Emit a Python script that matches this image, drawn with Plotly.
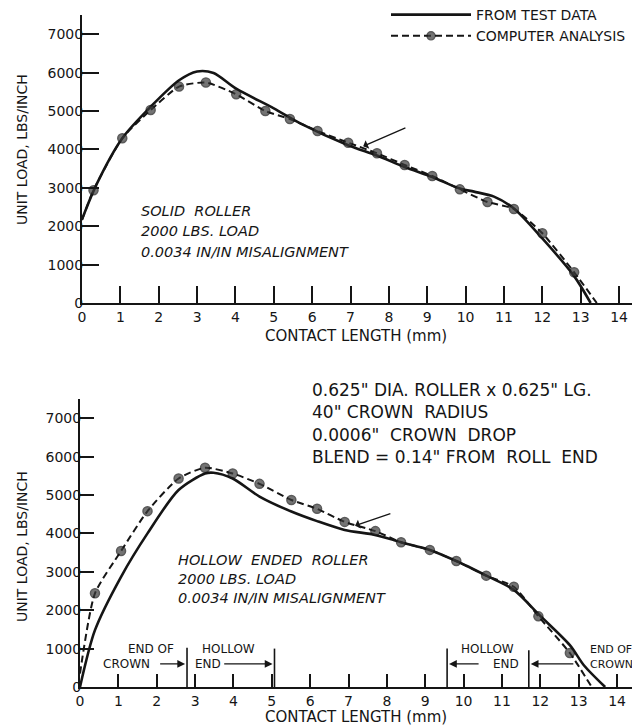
import plotly.graph_objects as go

W, H = 632, 728

# ---------------- data ----------------
# Top chart: solid roller
test_top_x = [0, 0.37, 1.05, 1.79, 2.53, 3.0, 3.43, 4.02, 5.0, 5.69, 6.94, 7.69, 8.41, 9.13, 9.85, 10.22, 10.74, 11.26, 12.0, 12.83, 13.26]
test_top_y = [2180, 3070, 4290, 5110, 5800, 6030, 5990, 5580, 5070, 4680, 4110, 3840, 3540, 3280, 2980, 2900, 2770, 2460, 1680, 700, 0]
comp_top_x = [0.30, 1.05, 1.79, 2.53, 3.23, 4.02, 4.78, 5.42, 6.14, 6.94, 7.69, 8.41, 9.13, 9.85, 10.57, 11.26, 12.0, 12.83]
comp_top_y = [2935, 4290, 5025, 5635, 5740, 5435, 5000, 4790, 4480, 4175, 3900, 3595, 3307, 2960, 2630, 2450, 1815, 800]
comp_top_start = (0, 2160)
comp_top_end = (13.42, 0)

# Bottom chart: hollow ended roller
test_bot_x = [0, 0.39, 1.07, 1.76, 2.57, 3.26, 3.48, 3.98, 4.68, 5.51, 6.18, 6.9, 7.7, 8.37, 9.12, 9.81, 10.59, 11.31, 11.98, 12.77, 13.14, 13.69]
test_bot_y = [0, 1480, 2870, 4000, 5130, 5560, 5580, 5430, 4960, 4570, 4320, 4090, 3960, 3770, 3570, 3280, 2900, 2530, 1870, 1090, 560, 0]
comp_bot_x = [0.39, 1.07, 1.76, 2.57, 3.26, 3.98, 4.68, 5.51, 6.18, 6.9, 7.70, 8.37, 9.12, 9.81, 10.59, 11.31, 11.95, 12.77]
comp_bot_y = [2440, 3540, 4580, 5430, 5710, 5560, 5290, 4870, 4640, 4300, 4060, 3770, 3570, 3280, 2900, 2610, 1840, 885]
comp_bot_start = (0, 350)
comp_bot_end = (13.34, 0)

x_ticks = list(range(0, 15))
x_tick_labels = [str(v) for v in x_ticks]
y_ticks = [0, 1000, 2000, 3000, 4000, 5000, 6000, 7000]
y_tick_labels = [str(v) for v in y_ticks]

# markers of the bottom chart: end of crown / hollow end
end_marks_x = [2.79, 5.07, 9.57, 11.70]
end_marks_top = [1020, 1000, 1000, 960]

INK = "#151515"
FONT = "DejaVu Sans"


def px_x(p):
    return p / W


def px_y(p):
    return 1 - p / H


fig = go.Figure()

# ---- top chart traces ----
fig.add_trace(go.Scatter(
    x=test_top_x, y=test_top_y, mode="lines", line=dict(color=INK, width=2.6, shape="spline", smoothing=0.8),
    name="FROM TEST DATA", xaxis="x", yaxis="y", showlegend=True))
ctx = [comp_top_start[0]] + comp_top_x + [comp_top_end[0]]
cty = [comp_top_start[1]] + comp_top_y + [comp_top_end[1]]
msz = [0] + [9] * len(comp_top_x) + [0]
mlw = [0] + [1.5] * len(comp_top_x) + [0]
fig.add_trace(go.Scatter(
    x=ctx, y=cty, mode="lines+markers",
    line=dict(color=INK, width=2, dash="7px,4px", shape="spline", smoothing=0.6),
    marker=dict(size=msz, color="#3a3a3a", line=dict(color=INK, width=mlw)),
    name="COMPUTER ANALYSIS", xaxis="x", yaxis="y", showlegend=True))

# ---- bottom chart traces ----
fig.add_trace(go.Scatter(
    x=test_bot_x, y=test_bot_y, mode="lines", line=dict(color=INK, width=2.6, shape="spline", smoothing=0.8),
    xaxis="x2", yaxis="y2", showlegend=False))
cbx = [comp_bot_start[0]] + comp_bot_x + [comp_bot_end[0]]
cby = [comp_bot_start[1]] + comp_bot_y + [comp_bot_end[1]]
msz2 = [0] + [9] * len(comp_bot_x) + [0]
mlw2 = [0] + [1.5] * len(comp_bot_x) + [0]
fig.add_trace(go.Scatter(
    x=cbx, y=cby, mode="lines+markers",
    line=dict(color=INK, width=2, dash="7px,4px", shape="spline", smoothing=0.6),
    marker=dict(size=msz2, color="#3a3a3a", line=dict(color=INK, width=mlw2)),
    xaxis="x2", yaxis="y2", showlegend=False))

# ---- end markers (vertical lines) ----
shapes = []
for xv, top in zip(end_marks_x, end_marks_top):
    shapes.append(dict(type="line", xref="x2", yref="y2", x0=xv, x1=xv, y0=0, y1=top,
                       line=dict(color=INK, width=1.6)))

axis_common = dict(
    showgrid=False, zeroline=False, showline=True, linecolor=INK, linewidth=2,
    ticks="inside", tickcolor=INK, tickwidth=1.6, automargin=False,
    tickfont=dict(family=FONT, size=14, color=INK),
)

# pixel geometry
top_x0, top_y0, top_ytop = 82, 303, 15
bot_x0, bot_y0, bot_ytop = 80, 687, 399
pxmm = 38.36

fig.update_layout(
    template="none",
    width=W, height=H,
    margin=dict(l=0, r=0, t=0, b=0, pad=0, autoexpand=False),
    paper_bgcolor="white", plot_bgcolor="white",
    font=dict(family=FONT, color=INK),
    showlegend=True,
    legend=dict(x=px_x(386), y=px_y(-1), xanchor="left", yanchor="top",
                itemwidth=80, tracegroupgap=0, bgcolor="rgba(0,0,0,0)", borderwidth=0,
                font=dict(family=FONT, size=14, color=INK)),
    xaxis=dict(domain=[px_x(top_x0), 1], range=[0, (W - top_x0) / pxmm], anchor="y",
               tickvals=x_ticks, ticktext=x_tick_labels, ticklen=17, **axis_common),
    yaxis=dict(domain=[px_y(top_y0), px_y(top_ytop)], range=[0, 7500], anchor="x",
               tickvals=y_ticks, ticktext=y_tick_labels, ticklen=17, ticklabelstandoff=-6,
               **axis_common),
    xaxis2=dict(domain=[px_x(bot_x0), 1], range=[0, (W - bot_x0) / pxmm], anchor="y2",
                tickvals=x_ticks, ticktext=x_tick_labels, ticklen=13, **axis_common),
    yaxis2=dict(domain=[px_y(bot_y0), px_y(bot_ytop)], range=[0, 7500], anchor="x2",
                tickvals=y_ticks, ticktext=y_tick_labels, ticklen=14, ticklabelstandoff=-6,
                **axis_common),
    shapes=shapes,
)

ann = []


def text(s, x, y, size=13, xanchor="center", italic=False, angle=0):
    if italic:
        s = "<i>" + s + "</i>"
    ann.append(dict(text=s, x=px_x(x), y=px_y(y), xref="paper", yref="paper",
                    xanchor=xanchor, yanchor="middle", showarrow=False, textangle=angle,
                    font=dict(family=FONT, size=size, color=INK)))


# axis titles
text("UNIT LOAD, LBS/INCH", 22, 150, size=14, angle=-90)
text("UNIT LOAD, LBS/INCH", 22, 547, size=14, angle=-90)
text("CONTACT LENGTH (mm)", 356, 336, size=15)
text("CONTACT LENGTH (mm)", 356, 717, size=15)

# top chart labels
text("SOLID  ROLLER", 139, 211, size=14.5, xanchor="left", italic=True)
text("2000 LBS. LOAD", 139, 231, size=14.5, xanchor="left", italic=True)
text("0.0034 IN/IN MISALIGNMENT", 139, 252, size=14.5, xanchor="left", italic=True)

# bottom chart labels
text("HOLLOW  ENDED  ROLLER", 176, 560, size=14.5, xanchor="left", italic=True)
text("2000 LBS. LOAD", 176, 579, size=14.5, xanchor="left", italic=True)
text("0.0034 IN/IN MISALIGNMENT", 176, 598, size=14.5, xanchor="left", italic=True)

text("0.625\" DIA. ROLLER x 0.625\" LG.", 310, 390, size=17, xanchor="left")
text("40\" CROWN  RADIUS", 310, 412, size=17, xanchor="left")
text("0.0006\"  CROWN  DROP", 310, 435, size=17, xanchor="left")
text("BLEND = 0.14\" FROM  ROLL  END", 310, 457, size=17, xanchor="left")

# end labels
text("END OF", 151, 649, size=12)
text("CROWN", 127, 664, size=12)
text("HOLLOW", 228, 649, size=12)
text("END", 208, 664, size=12)
text("HOLLOW", 487, 649, size=12)
text("END", 506, 664, size=12)
text("END OF", 588, 649, size=11, xanchor="left")
text("CROWN", 588, 664, size=11, xanchor="left")


def arrow(x_from, y_from, x_to, y_to, xr, yr, head=1):
    ann.append(dict(x=x_to, y=y_to, ax=x_from, ay=y_from, xref=xr, yref=yr, axref=xr, ayref=yr,
                    text="", showarrow=True, arrowhead=head, arrowsize=1.2, arrowwidth=1.3,
                    arrowcolor=INK))


# pointer arrows to curves
arrow(8.47, 4580, 7.33, 4080, "x", "y", head=1)
arrow(8.13, 4530, 7.17, 4200, "x2", "y2", head=1)
# end-of-crown / hollow-end arrows
arrow(2.05, 600, 2.74, 600, "x2", "y2", head=2)
arrow(3.72, 600, 5.02, 600, "x2", "y2", head=2)
arrow(10.43, 600, 9.62, 600, "x2", "y2", head=2)
arrow(12.90, 600, 11.75, 600, "x2", "y2", head=2)

fig.update_layout(annotations=ann)

fig.write_html("out.html", config={"displayModeBar": False},
               post_script="document.body.style.margin='0';document.body.style.padding='0';")
